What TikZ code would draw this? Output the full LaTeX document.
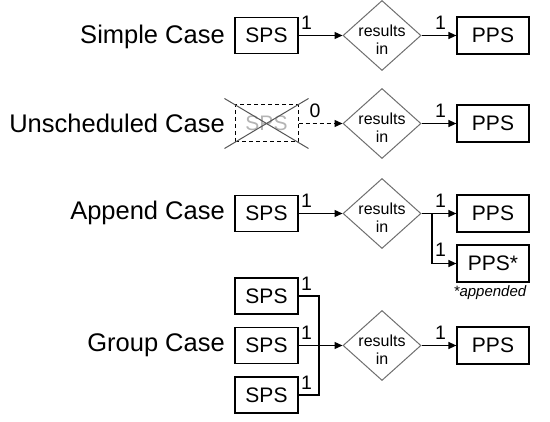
\documentclass[tikz,border=0pt]{standalone}
\usepackage{fontspec}
\setmainfont{Liberation Sans}
\usetikzlibrary{arrows.meta,shapes.geometric,calc}
\definecolor{dgray}{HTML}{6E6E6E}
\definecolor{xgray}{HTML}{555555}
\definecolor{lgray}{HTML}{B4B4B4}
\newcommand\restext{\smash{\makebox[0pt]{\raisebox{-1pt}{\fontsize{16}{18}\selectfont\begin{tabular}[t]{@{}c@{}}results\\in\end{tabular}}}}}
\begin{document}
\begin{tikzpicture}[x=1pt,y=-1pt,
  box/.style={draw=black, line width=1.2pt, minimum width=63pt, minimum height=36pt, inner sep=0pt, font=\fontsize{21}{24}\selectfont},
  ppsbox/.style={box, minimum width=72pt, minimum height=37pt},
  dbox/.style={draw=black, dash pattern=on 4pt off 3pt, line width=1pt, minimum width=63pt, minimum height=37pt, inner sep=0pt, font=\fontsize{21}{24}\selectfont, text=lgray},
  rel/.style={shape=diamond, draw=dgray, line width=1pt, minimum width=78pt, minimum height=70pt, inner sep=0pt},
  casetext/.style={anchor=base east, inner sep=0pt, font=\fontsize{25.5}{30}\selectfont},
  card/.style={anchor=base west, inner sep=0pt, font=\fontsize{19.5}{22}\selectfont},
  note/.style={anchor=base, inner sep=0pt, font=\fontsize{15}{17}\selectfont\itshape},
  conn/.style={line width=1.3pt, -{Triangle[length=8pt,width=7pt]}},
  plain/.style={line width=1.3pt},
  crossline/.style={draw=xgray, line width=1pt}
]
\useasboundingbox (0,0) rectangle (550,422);

% Simple case
\node[casetext] (t1) at (225,43.5) {Simple Case};
\node[box] (s1) at (266.5,35.5) {SPS};
\node[rel] (d1) at (382,35.5) {\restext};
\node[ppsbox] (p1) at (493,35.5) {PPS};
\draw[conn] (s1.east) -- (d1.west);
\draw[conn] (d1.east) -- (p1.west);
\node[card] (c1a) at (301,29.5) {1};
\node[card] (c1b) at (435,29.5) {1};

% Unscheduled case
\node[casetext] (t2) at (225,133) {Unscheduled Case};
\node[dbox] (s2) at (266.5,123.5) {SPS};
\draw[crossline] ($(s2.north west)+(-10,-6)$) -- ($(s2.south east)+(10,6)$);
\draw[crossline] ($(s2.north east)+(10,-6)$) -- ($(s2.south west)+(-10,6)$);
\node[rel] (d2) at (382,123.5) {\restext};
\node[ppsbox] (p2) at (493,123.5) {PPS};
\draw[conn, dash pattern=on 4pt off 3pt] (s2.east) -- (d2.west);
\draw[conn] (d2.east) -- (p2.west);
\node[card] (c2a) at (309.5,118) {0};
\node[card] (c2b) at (435,118) {1};

% Append case
\node[casetext] (t3) at (225,220) {Append Case};
\node[box] (s3) at (266.5,213.5) {SPS};
\node[rel] (d3) at (382,213.5) {\restext};
\node[ppsbox] (p3) at (493,213.5) {PPS};
\node[ppsbox] (p3b) at (493,263.5) {PPS*};
\node[note] (n3) at (490,297) {*appended};
\coordinate (br3) at (432,213.5);
\draw[conn] (s3.east) -- (d3.west);
\draw[conn] (d3.east) -- (p3.west);
\draw[conn] (br3) |- (p3b.west);
\node[card] (c3a) at (301,207.5) {1};
\node[card] (c3b) at (435,207.5) {1};
\node[card] (c3c) at (435,256.5) {1};

% Group case
\node[casetext] (t4) at (225,352) {Group Case};
\node[box] (s4a) at (266.5,296) {SPS};
\node[box] (s4b) at (266.5,345.5) {SPS};
\node[box] (s4c) at (266.5,395) {SPS};
\node[rel] (d4) at (382,345.5) {\restext};
\node[ppsbox] (p4) at (493,345.5) {PPS};
\coordinate (j4) at (319,345.5);
\draw[plain] (s4a.east) -| (j4) |- (s4c.east);
\draw[conn] (s4b.east) -- (d4.west);
\draw[conn] (d4.east) -- (p4.west);
\node[card] (c4a) at (301,291) {1};
\node[card] (c4b) at (301,340) {1};
\node[card] (c4c) at (301,390) {1};
\node[card] (c4d) at (435,340) {1};
\end{tikzpicture}
\end{document}
